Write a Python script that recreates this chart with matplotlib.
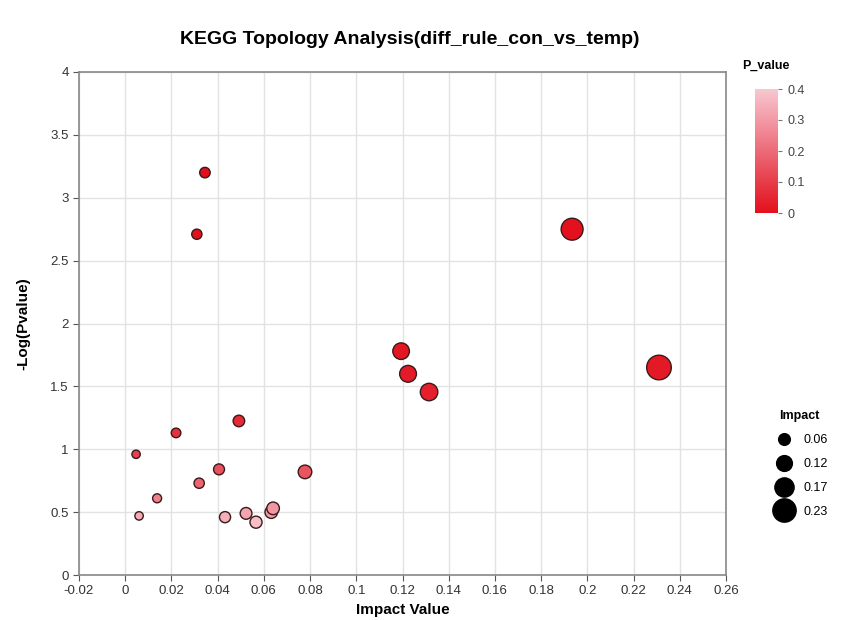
import numpy as np
import matplotlib.pyplot as plt
from matplotlib.colors import LinearSegmentedColormap, Normalize
from matplotlib.lines import Line2D

plt.rcParams['font.family'] = ['Liberation Sans', 'DejaVu Sans']

# 데이터
impact = [0.0345, 0.031, 0.1934, 0.231, 0.1194, 0.1224, 0.1315, 0.0492, 0.022, 0.0047,
          0.0406, 0.0778, 0.032, 0.0138, 0.006, 0.0432, 0.0523, 0.0566, 0.0640, 0.0632]
neglogp = [3.20, 2.71, 2.75, 1.65, 1.78, 1.60, 1.455, 1.225, 1.13, 0.96,
           0.84, 0.82, 0.73, 0.61, 0.47, 0.46, 0.49, 0.42, 0.53, 0.50]
legend_impact = [0.06, 0.12, 0.17, 0.23]
xticks = np.arange(-0.02, 0.2601, 0.02)
yticks = np.arange(0, 4.01, 0.5)

impact = np.array(impact)
neglogp = np.array(neglogp)
pvalue = 10 ** (-neglogp)


def diam(v):
    # 지름(px) -> 포인트
    return (8 + 72 * np.asarray(v)) * 0.72


cmap = LinearSegmentedColormap.from_list('pv', ['#e2101c', '#ec6a78', '#f7c8d0'])
norm = Normalize(0, 0.4)

fig = plt.figure(figsize=(8.42, 6.2), dpi=100)
ax = fig.add_axes([79 / 842, 1 - 575 / 620, 647 / 842, 503 / 620])

order = np.argsort(-pvalue)
ax.scatter(impact[order], neglogp[order], s=diam(impact[order]) ** 2,
           c=pvalue[order], cmap=cmap, norm=norm,
           edgecolors='#3a1a1a', linewidths=1.0, zorder=3)

ax.set_xlim(-0.02, 0.26)
ax.set_ylim(0, 4)
ax.set_xticks(xticks)
ax.set_xticklabels(['-0.02', '0'] + ['%g' % round(v, 2) for v in xticks[2:]])
ax.set_yticks(yticks)
ax.set_yticklabels(['%g' % v for v in yticks])
ax.grid(True, color='#e2e2e2', linewidth=1)
ax.set_axisbelow(True)
for sp in ax.spines.values():
    sp.set_color('#888888')
    sp.set_linewidth(1.2)
ax.tick_params(labelsize=9.5, colors='#555555', length=4, labelcolor='#333333')

ax.set_xlabel('Impact Value', fontsize=11, fontweight='bold', labelpad=4)
ax.set_ylabel('-Log(Pvalue)', fontsize=11, fontweight='bold', labelpad=14)
fig.text(0.487, 1 - 40 / 620, 'KEGG Topology Analysis(diff_rule_con_vs_temp)',
         ha='center', va='center', fontsize=14, fontweight='bold')

# 컬러바
cax = fig.add_axes([755 / 842, 1 - 213 / 620, 23 / 842, 124 / 620])
cb = fig.colorbar(plt.cm.ScalarMappable(norm=norm, cmap=cmap), cax=cax)
cb.outline.set_visible(False)
cb.set_ticks([0, 0.1, 0.2, 0.3, 0.4])
cb.ax.set_yticklabels(['0', '0.1', '0.2', '0.3', '0.4'])
cb.ax.tick_params(labelsize=9, colors='#777777', labelcolor='#444444', length=3)
fig.text(766 / 842, 1 - 66 / 620, 'P_value', ha='center', va='center',
         fontsize=9, fontweight='bold')

# 크기 범례
handles = [Line2D([], [], marker='o', linestyle='', color='black',
                  markersize=diam(v) * 0.95) for v in legend_impact]
fig.legend(handles, ['%g' % v for v in legend_impact], title='Impact',
           loc='upper left', bbox_to_anchor=(760 / 842, 1 - 399 / 620),
           frameon=False, fontsize=9, labelspacing=0.95, handletextpad=0.6,
           title_fontproperties={'weight': 'bold', 'size': 9})

fig.savefig('out.png', dpi=100)
